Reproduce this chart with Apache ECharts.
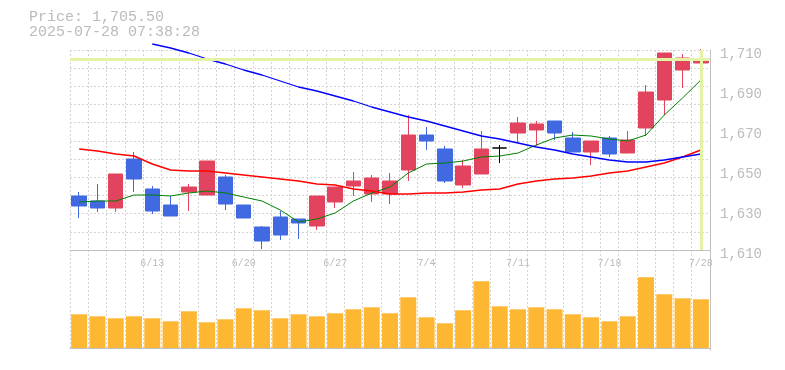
<!DOCTYPE html>
<html><head><meta charset="utf-8">
<script src="https://cdn.jsdelivr.net/npm/echarts@6/dist/echarts.min.js"></script>
<style>html,body{margin:0;padding:0;background:#fff}#c{width:785px;height:370px}</style>
</head><body><div id="c"></div>
<script>
const dates = ['6/9','6/10','6/11','6/12','6/13','6/16','6/17','6/18','6/19','6/20','6/23','6/24','6/25','6/26','6/27','6/30','7/1','7/2','7/3','7/4','7/7','7/8','7/9','7/10','7/11','7/14','7/15','7/16','7/17','7/18','7/22','7/23','7/24','7/25','7/28'];
const opens  = [1637,1634.5,1631,1655.5,1640.5,1632.5,1639,1637.5,1646.5,1632.5,1621.5,1626.5,1625.5,1622,1634,1642,1638,1638,1650,1667.5,1660.5,1642.5,1648,1661,1668.5,1670,1674.5,1666,1659,1666,1658.5,1671,1685,1700,1703.5];
const closes = [1632,1631,1648,1645.5,1629.5,1627,1641.5,1654.5,1633,1626,1614.5,1617.5,1623.5,1637,1641.5,1644.5,1646,1644.5,1667.5,1664.5,1644.5,1652,1660.5,1661,1673.5,1673,1668.5,1659,1664.5,1658,1665,1689,1708.5,1706,1705.5];
const lows   = [1626,1629,1629,1639,1628,1627,1629.5,1637.5,1630,1626,1610.5,1615,1615.5,1620,1631,1637,1634,1633,1644.5,1660,1643.5,1641,1648,1653.5,1663.5,1662,1665,1659,1652.5,1656.5,1658.5,1667,1677.5,1691,1697.5];
const highs  = [1639,1643,1648,1659,1642,1637,1643,1654.5,1647.5,1632.5,1622,1629.5,1625.5,1637,1641.5,1649,1647.5,1648.5,1677.5,1671.5,1662,1655,1669.5,1662.5,1676.5,1674.5,1674.5,1669,1664.5,1667,1669.5,1692.5,1708.5,1708,1710.5];
const volumes = [337,317,297,317,297,267,367,257,287,397,377,297,337,317,347,387,407,347,507,307,247,377,667,417,387,407,387,337,307,267,317,707,537,497,487];
const ma5  = [1634,1634.5,1634.5,1637.5,1637.5,1637,1638.5,1639.5,1638.5,1636.5,1634.5,1630,1624,1625.5,1628.5,1634.5,1638.5,1641.5,1648.5,1653,1653.5,1654.5,1656.5,1657,1658.5,1662.5,1666,1667.5,1667,1665.5,1664.5,1667.5,1677.5,1686,1695];
const ma25 = [1660.5,1659.5,1658,1657,1653,1650,1649.5,1649.5,1648.5,1647.5,1646.5,1645.5,1644.5,1643,1642.5,1640.5,1639.5,1638,1638,1638.5,1638.5,1639,1640,1640.5,1643,1644.5,1645.5,1646,1647,1648.5,1649.5,1651.5,1653.5,1656.5,1660];
const ma75 = [null,null,null,null,1713,1711,1708.5,1705.5,1703,1700,1697.5,1694.5,1691.5,1689.5,1687,1684.5,1681.5,1679,1676.5,1674.5,1672,1669.5,1667,1665.5,1663.5,1661.5,1660,1658,1656.5,1655,1654,1654,1655,1656.5,1658];
const priceTicks = [1610,1630,1650,1670,1690,1710];
const dateTickLabels = ['6/13','6/20','6/27','7/4','7/11','7/18','7/28'];
const currentPrice = 1705.5;
const timestamp = '2025-07-28 07:38:28';

const FONT = 'Liberation Mono';
const GRAY = '#bbbbbb';
const AXIS = '#c0c0c0';
const DASH = {color:'#d4d4d4', width:1, type:[2,2]};
const chart = echarts.init(document.getElementById('c'), null, {renderer:'canvas'});
const fmtPrice = currentPrice.toLocaleString('en-US',{minimumFractionDigits:2, maximumFractionDigits:2});

chart.setOption({
  animation:false,
  backgroundColor:'#fff',
  title:{text:'Price: ' + fmtPrice + '\n' + timestamp, left:29, top:10, padding:0,
    textStyle:{fontFamily:FONT, fontSize:15, fontWeight:'normal', color:GRAY, lineHeight:15}},
  grid:[{left:70, right:75, top:50, height:200},{left:70, right:75, top:250, height:100}],
  xAxis:[
    {type:'category', gridIndex:0, data:dates, boundaryGap:true,
     axisLine:{lineStyle:{color:AXIS, width:1}}, axisTick:{show:false},
     axisLabel:{interval:0, formatter:v => dateTickLabels.includes(v) ? v : '', color:GRAY, fontFamily:FONT, fontSize:10, margin:8},
     splitLine:{show:true, interval:0, lineStyle:DASH}},
    {type:'category', gridIndex:1, data:dates, boundaryGap:true,
     axisLine:{lineStyle:{color:AXIS, width:1}}, axisTick:{show:false}, axisLabel:{show:false},
     splitLine:{show:true, interval:0, lineStyle:DASH}}
  ],
  yAxis:[
    {type:'value', gridIndex:0, position:'right', min:priceTicks[0], max:priceTicks[priceTicks.length-1], interval:20,
     axisLine:{show:true, lineStyle:{color:AXIS, width:1}}, axisTick:{show:false}, splitLine:{show:false},
     axisLabel:{margin:10, formatter:v => '{p|' + v.toLocaleString('en-US') + '}',
       rich:{p:{color:GRAY, fontFamily:FONT, fontSize:14, padding:[8,0,0,0]}}}},
    {type:'value', gridIndex:0, position:'left', min:0, max:11, interval:1,
     axisLine:{show:false}, axisTick:{show:false}, axisLabel:{show:false},
     splitLine:{show:true, lineStyle:DASH}},
    {type:'value', gridIndex:1, position:'right', min:-20, max:980,
     axisLine:{show:true, lineStyle:{color:AXIS, width:1}}, axisTick:{show:false}, axisLabel:{show:false}, splitLine:{show:false}}
  ],
  series:[
    {type:'line', xAxisIndex:0, yAxisIndex:0, data:[], z:1, silent:true,
     markLine:{symbol:'none', silent:true, label:{show:false}, animation:false,
       lineStyle:{color:'#e3f3a6', width:3, type:'solid'},
       data:[{yAxis:currentPrice},{xAxis:dates[dates.length-1]}]}},
    {type:'candlestick', xAxisIndex:0, yAxisIndex:0, z:3, barWidth:15,
     data:dates.map((d,i)=>[opens[i],closes[i],lows[i],highs[i]]),
     itemStyle:{color:'#e2445f', color0:'#4169e1', borderColor:'#e2445f', borderColor0:'#4169e1', borderColorDoji:'#000000', borderWidth:1}},
    {type:'line', xAxisIndex:0, yAxisIndex:0, data:ma5, symbol:'none', clip:false, z:4, lineStyle:{color:'#008000', width:1}},
    {type:'line', xAxisIndex:0, yAxisIndex:0, data:ma25, symbol:'none', clip:false, z:4, lineStyle:{color:'#ff0000', width:1.5}},
    {type:'line', xAxisIndex:0, yAxisIndex:0, data:ma75, symbol:'none', clip:false, z:4, lineStyle:{color:'#0000ff', width:1.3}},
    {type:'bar', xAxisIndex:1, yAxisIndex:2, data:volumes, barWidth:16, itemStyle:{color:'#fdb733'}}
  ]
});
</script></body></html>
